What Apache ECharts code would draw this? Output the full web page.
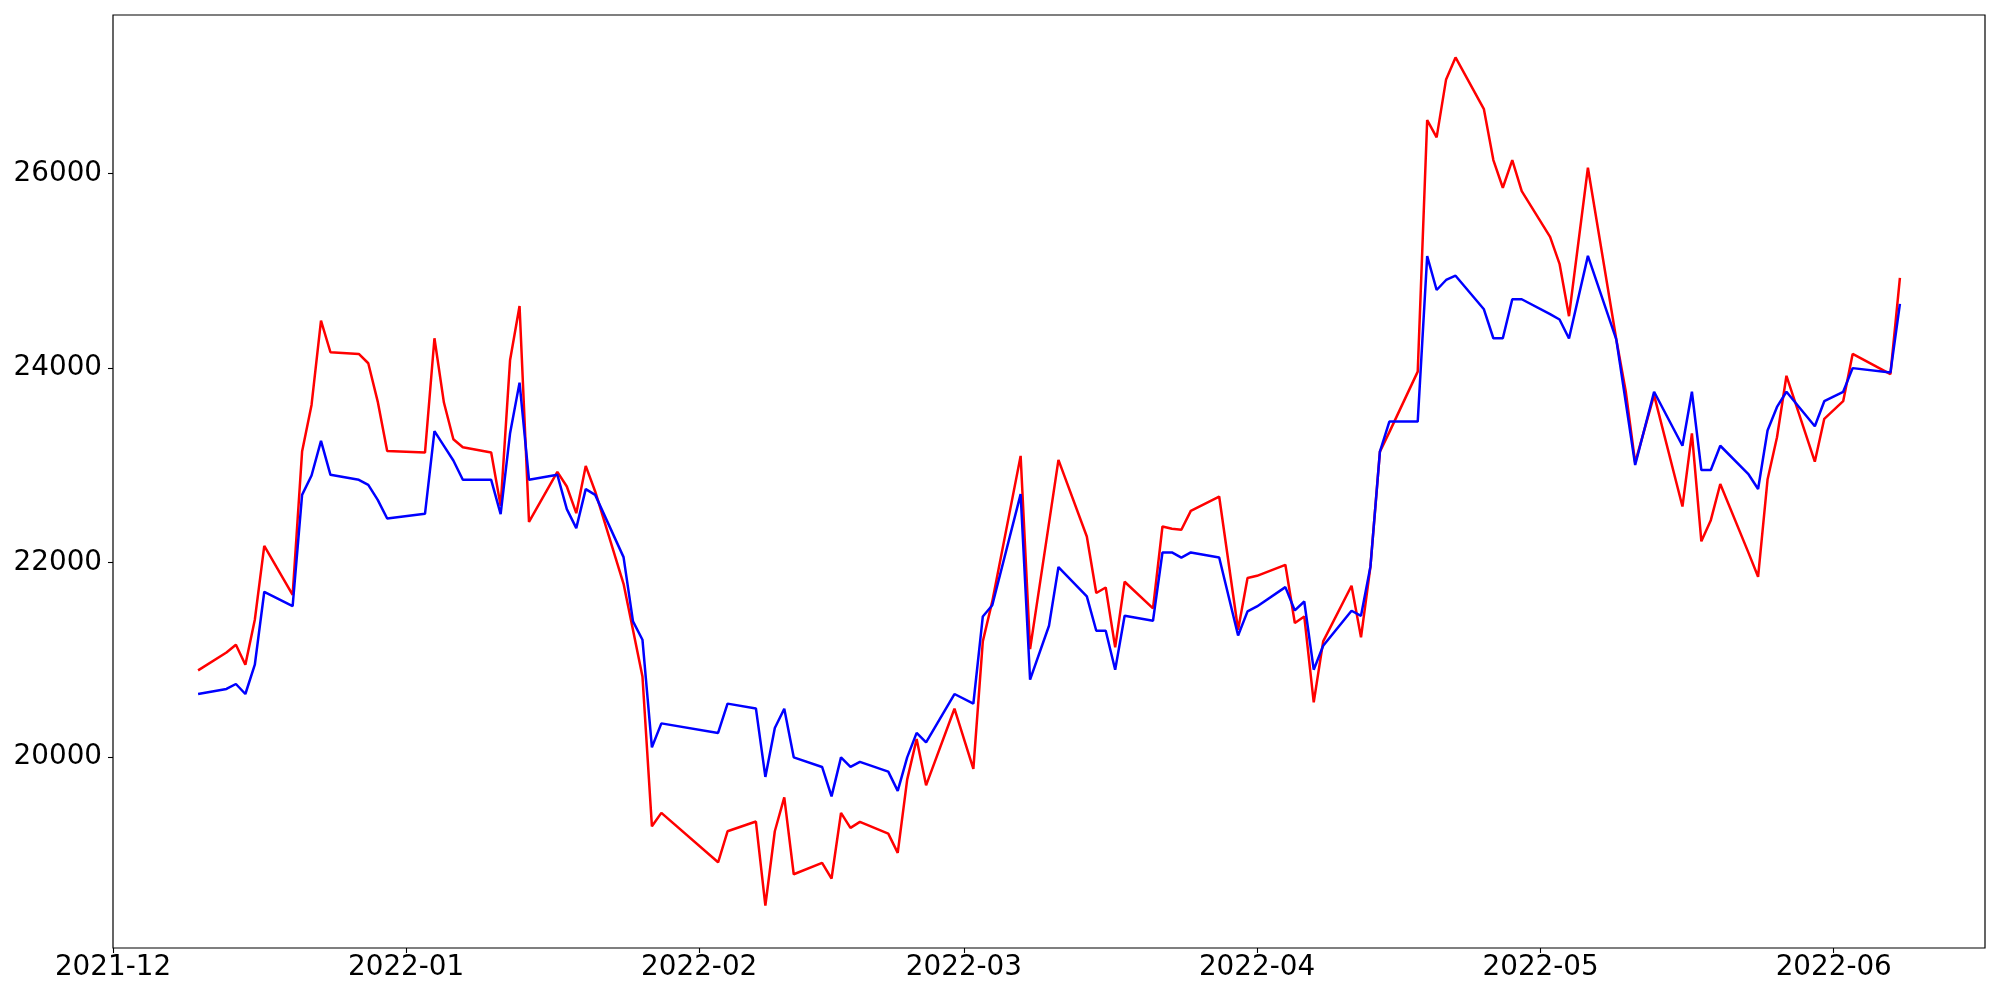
<!DOCTYPE html>
<html>
<head>
<meta charset="utf-8">
<title>chart</title>
<script src="https://cdn.jsdelivr.net/npm/echarts@6/dist/echarts.min.js"></script>
<style>
  html, body { margin: 0; padding: 0; background: #fff; }
  #chart { width: 2000px; height: 1000px; }
</style>
</head>
<body>
<div id="chart"></div>
<script>
// trading days
const dates = [
  '2021-12-10', '2021-12-13', '2021-12-14', '2021-12-15', '2021-12-16', '2021-12-17',
  '2021-12-20', '2021-12-21', '2021-12-22', '2021-12-23', '2021-12-24',
  '2021-12-27', '2021-12-28', '2021-12-29', '2021-12-30',
  '2022-01-03', '2022-01-04', '2022-01-05', '2022-01-06', '2022-01-07',
  '2022-01-10', '2022-01-11', '2022-01-12', '2022-01-13', '2022-01-14',
  '2022-01-17', '2022-01-18', '2022-01-19', '2022-01-20', '2022-01-21',
  '2022-01-24', '2022-01-25', '2022-01-26', '2022-01-27', '2022-01-28',
  '2022-02-03', '2022-02-04',
  '2022-02-07', '2022-02-08', '2022-02-09', '2022-02-10', '2022-02-11',
  '2022-02-14', '2022-02-15', '2022-02-16', '2022-02-17', '2022-02-18',
  '2022-02-21', '2022-02-22', '2022-02-23', '2022-02-24', '2022-02-25',
  '2022-02-28', '2022-03-02', '2022-03-03', '2022-03-04',
  '2022-03-07', '2022-03-08', '2022-03-10', '2022-03-11',
  '2022-03-14', '2022-03-15', '2022-03-16', '2022-03-17', '2022-03-18',
  '2022-03-21', '2022-03-22', '2022-03-23', '2022-03-24', '2022-03-25',
  '2022-03-28', '2022-03-30', '2022-03-31', '2022-04-01',
  '2022-04-04', '2022-04-05', '2022-04-06', '2022-04-07', '2022-04-08',
  '2022-04-11', '2022-04-12', '2022-04-13', '2022-04-14', '2022-04-15',
  '2022-04-18', '2022-04-19', '2022-04-20', '2022-04-21', '2022-04-22',
  '2022-04-25', '2022-04-26', '2022-04-27', '2022-04-28', '2022-04-29',
  '2022-05-02', '2022-05-03', '2022-05-04', '2022-05-06',
  '2022-05-09', '2022-05-10', '2022-05-11', '2022-05-13',
  '2022-05-16', '2022-05-17', '2022-05-18', '2022-05-19', '2022-05-20',
  '2022-05-23', '2022-05-24', '2022-05-25', '2022-05-26', '2022-05-27',
  '2022-05-30', '2022-05-31', '2022-06-02', '2022-06-03',
  '2022-06-07', '2022-06-08'
]

const redValues = [
  20891, 21075, 21155, 20949, 21411, 22171,
  21668, 23140, 23620, 24486, 24161,
  24144, 24048, 23654, 23147,
  23130, 24305, 23644, 23267, 23185,
  23130, 22582, 24082, 24637, 22418,
  22932, 22781, 22507, 22993, 22730,
  21781, 21306, 20829, 19288, 19426,
  18918, 19237,
  19337, 18473, 19237, 19586, 18795,
  18912, 18751, 19426, 19272, 19333,
  19213, 19015, 19768, 20186, 19709,
  20497, 19878, 21189, 21600,
  23096, 21110, 22405, 23055,
  22267, 21686, 21743, 21127, 21802,
  21528, 22370, 22346, 22336, 22531,
  22678, 21309, 21840, 21863,
  21976, 21378, 21445, 20562, 21189,
  21761, 21230, 21959, 23140, 23340,
  23962, 26548, 26370, 26966, 27192,
  26660, 26137, 25852, 26137, 25818,
  25348, 25070, 24532, 26058,
  24294, 23760, 23026, 23721,
  22575, 23328, 22218, 22435, 22807,
  22096, 21853, 22853, 23287, 23919,
  23036, 23477, 23658, 24144,
  23936, 24926
]

const blueValues = [
  20648, 20700, 20751, 20648, 20949, 21699,
  21552, 22695, 22894, 23250, 22901,
  22850, 22798, 22644, 22452,
  22500, 23350, 23199, 23048, 22850,
  22850, 22497, 23329, 23849, 22850,
  22901, 22549, 22353, 22754, 22695,
  22055, 21394, 21206, 20100, 20346,
  20248, 20549,
  20500, 19796, 20299, 20497, 19997,
  19898, 19596, 19997, 19898, 19950,
  19850, 19652, 19997, 20248, 20151,
  20648, 20549, 21445, 21560,
  22703, 20795, 21350, 21953,
  21651, 21298, 21298, 20898, 21452,
  21401, 22103, 22103, 22051, 22103,
  22051, 21250, 21497, 21548,
  21747, 21507, 21599, 20898, 21144,
  21504, 21452, 21959, 23140, 23448,
  23448, 25150, 24801, 24904, 24948,
  24603, 24305, 24305, 24706, 24706,
  24553, 24498, 24303, 25152,
  24294, 23650, 23002, 23755,
  23200, 23755, 22950, 22950, 23200,
  22905, 22755, 23356, 23599, 23755,
  23401, 23658, 23755, 23998,
  23954, 24658
]

const xTicks = ['2021-12-01', '2022-01-01', '2022-02-01', '2022-03-01', '2022-04-01', '2022-05-01', '2022-06-01']
const yTicks = [20000, 22000, 24000, 26000]

function ts(s) {
  const p = s.split('-')
  return Date.UTC(+p[0], +p[1] - 1, +p[2])
}

const times = dates.map(ts)
// 5% padding like the original plot
const xSpan = times[times.length - 1] - times[0]
const xMin = times[0] - 0.05 * xSpan
const xMax = times[times.length - 1] + 0.05 * xSpan
const allY = redValues.concat(blueValues)
const yLo = Math.min.apply(null, allY)
const yHi = Math.max.apply(null, allY)
const ySpan = yHi - yLo

const font = 'DejaVu Sans'
const xTickValues = xTicks.map(ts)

const chart = echarts.init(document.getElementById('chart'), null, { renderer: 'canvas' })
chart.setOption({
  animation: false,
  backgroundColor: '#fff',
  grid: {
    left: 113,
    right: 15,
    top: 15,
    bottom: 52,
    show: true,
    borderColor: '#000',
    borderWidth: 1.2,
    containLabel: false
  },
  xAxis: {
    type: 'value',
    min: xMin,
    max: xMax,
    splitLine: { show: false },
    axisLine: { show: false },
    axisTick: {
      show: true,
      length: 5,
      lineStyle: { color: '#000', width: 1.1 },
      customValues: xTickValues
    },
    axisLabel: {
      customValues: xTickValues,
      margin: 6,
      color: '#000',
      fontFamily: font,
      fontSize: 27.8,
      hideOverlap: false,
      formatter: function (v) {
        const d = new Date(v)
        const m = d.getUTCMonth() + 1
        return d.getUTCFullYear() + '-' + (m < 10 ? '0' + m : m)
      }
    }
  },
  yAxis: {
    type: 'value',
    min: yLo - 0.05 * ySpan,
    max: yHi + 0.05 * ySpan,
    splitLine: { show: false },
    axisLine: { show: false },
    axisTick: {
      show: true,
      length: 5,
      lineStyle: { color: '#000', width: 1.1 },
      customValues: yTicks
    },
    axisLabel: {
      customValues: yTicks,
      margin: 11,
      color: '#000',
      fontFamily: font,
      fontSize: 27.8,
      formatter: function (v) { return String(Math.round(v)) }
    }
  },
  series: [
    {
      name: 'red',
      type: 'line',
      data: times.map((t, i) => [t, redValues[i]]),
      showSymbol: false,
      symbol: 'none',
      lineStyle: { color: '#ff0000', width: 2.5 },
      itemStyle: { color: '#ff0000' }
    },
    {
      name: 'blue',
      type: 'line',
      data: times.map((t, i) => [t, blueValues[i]]),
      showSymbol: false,
      symbol: 'none',
      lineStyle: { color: '#0000ff', width: 2.5 },
      itemStyle: { color: '#0000ff' }
    }
  ]
})
</script>
</body>
</html>
